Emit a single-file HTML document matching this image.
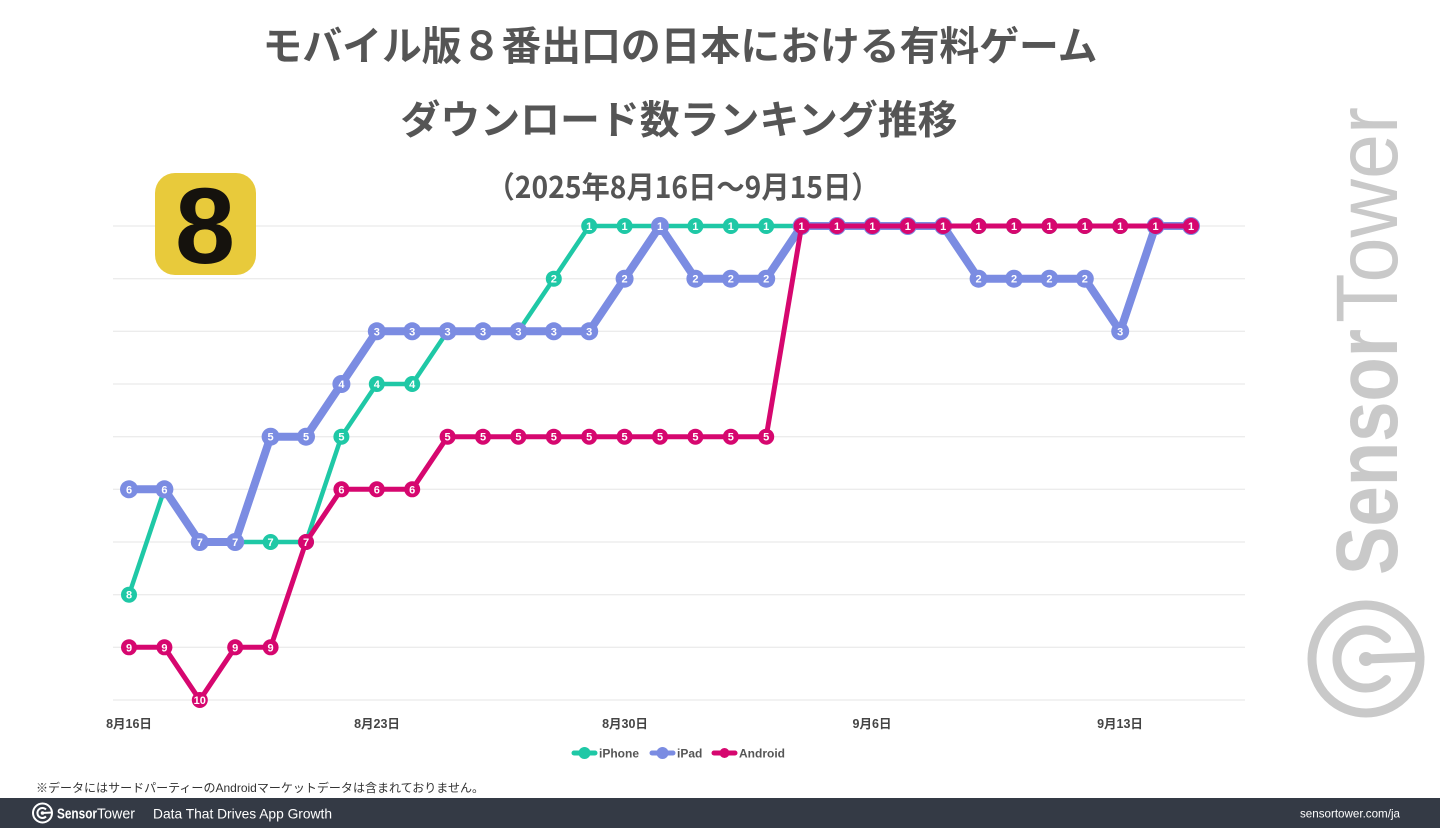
<!DOCTYPE html>
<html>
<head>
<meta charset="utf-8">
<style>
html,body{margin:0;padding:0;background:#fff;}
svg{display:block;}
.ip circle{fill:#1fc8a6;}
.pd circle{fill:#7b8ce2;}
.an circle{fill:#d6076f;}
.lbl text{font-family:"Liberation Sans","Noto Sans CJK JP",sans-serif;font-weight:bold;font-size:11px;fill:#fff;text-anchor:middle;}
.ax{font-family:"Liberation Sans","Noto Sans CJK JP",sans-serif;font-weight:bold;font-size:12.5px;fill:#444;text-anchor:middle;}
</style>
</head>
<body>
<svg width="1440" height="828" viewBox="0 0 1440 828" xmlns="http://www.w3.org/2000/svg">
<rect width="1440" height="828" fill="#fff"/>

<!-- Title -->
<g font-family="'Noto Sans CJK JP','Liberation Sans',sans-serif" font-weight="bold" fill="#555" text-anchor="middle">
<text x="680" y="60" font-size="40" textLength="835" lengthAdjust="spacingAndGlyphs">モバイル版８番出口の日本における有料ゲーム</text>
<text x="679" y="134" font-size="39.5" textLength="557" lengthAdjust="spacingAndGlyphs">ダウンロード数ランキング推移</text>
<text x="683" y="198" font-size="30" textLength="393" lengthAdjust="spacingAndGlyphs">（2025年8月16日～9月15日）</text>
</g>

<!-- Gridlines -->
<g stroke="#e6e6e6" stroke-width="1">
<line x1="113" y1="226" x2="1245" y2="226"/>
<line x1="113" y1="278.7" x2="1245" y2="278.7"/>
<line x1="113" y1="331.3" x2="1245" y2="331.3"/>
<line x1="113" y1="384" x2="1245" y2="384"/>
<line x1="113" y1="436.7" x2="1245" y2="436.7"/>
<line x1="113" y1="489.3" x2="1245" y2="489.3"/>
<line x1="113" y1="542" x2="1245" y2="542"/>
<line x1="113" y1="594.7" x2="1245" y2="594.7"/>
<line x1="113" y1="647.3" x2="1245" y2="647.3"/>
<line x1="113" y1="700" x2="1245" y2="700"/>
</g>

<!-- Watermark -->
<g fill="#c9c9c9">
<g transform="translate(1397,575) rotate(-90)" font-family="'Liberation Sans',sans-serif">
<text x="0" y="0" font-size="87" font-weight="bold" textLength="246" lengthAdjust="spacingAndGlyphs">Sensor</text>
<text x="252" y="0" font-size="87" textLength="216" lengthAdjust="spacingAndGlyphs">Tower</text>
</g>
</g>
<g fill="none" stroke="#c9c9c9" stroke-width="9" stroke-linecap="round">
<circle cx="1366" cy="659" r="54"/>
<path d="M1386.5,638.5 A29,29 0 1 0 1386.5,679.5"/>
<line x1="1366" y1="659" x2="1420" y2="657"/>
</g>
<circle cx="1366" cy="659" r="7" fill="#c9c9c9"/>

<!-- App icon -->
<rect x="155" y="173" width="101" height="102" rx="20" fill="#e8ca3b"/>
<text x="205" y="263" font-family="'Liberation Sans',sans-serif" font-weight="bold" font-size="108" fill="#15120d" text-anchor="middle">8</text>

<!-- Lines -->
<g fill="none" stroke-linejoin="round" stroke-linecap="round">
<polyline stroke="#1fc8a6" stroke-width="4.5" points="129,594.7 164.4,489.3 199.8,542 306,542 341.4,436.7 376.8,384 412.2,384 447.6,331.3 518.4,331.3 553.8,278.7 589.2,226 1191,226"/>
</g>

<g class="ip lbl">
<circle cx="129" cy="594.7" r="8"/><text x="129" y="598.7">8</text>
<circle cx="164.4" cy="489.3" r="8"/><text x="164.4" y="493.3">6</text>
<circle cx="199.8" cy="542" r="8"/><text x="199.8" y="546">7</text>
<circle cx="235.2" cy="542" r="8"/><text x="235.2" y="546">7</text>
<circle cx="270.6" cy="542" r="8"/><text x="270.6" y="546">7</text>
<circle cx="306" cy="542" r="8"/><text x="306" y="546">7</text>
<circle cx="341.4" cy="436.7" r="8"/><text x="341.4" y="440.7">5</text>
<circle cx="376.8" cy="384" r="8"/><text x="376.8" y="388">4</text>
<circle cx="412.2" cy="384" r="8"/><text x="412.2" y="388">4</text>
<circle cx="447.6" cy="331.3" r="8"/><text x="447.6" y="335.3">3</text>
<circle cx="483" cy="331.3" r="8"/><text x="483" y="335.3">3</text>
<circle cx="518.4" cy="331.3" r="8"/><text x="518.4" y="335.3">3</text>
<circle cx="553.8" cy="278.7" r="8"/><text x="553.8" y="282.7">2</text>
<circle cx="589.2" cy="226" r="8"/><text x="589.2" y="230">1</text>
<circle cx="624.6" cy="226" r="8"/><text x="624.6" y="230">1</text>
<circle cx="660" cy="226" r="8"/><text x="660" y="230">1</text>
<circle cx="695.4" cy="226" r="8"/><text x="695.4" y="230">1</text>
<circle cx="730.8" cy="226" r="8"/><text x="730.8" y="230">1</text>
<circle cx="766.2" cy="226" r="8"/><text x="766.2" y="230">1</text>
<circle cx="801.6" cy="226" r="8"/>
<circle cx="837" cy="226" r="8"/>
<circle cx="872.4" cy="226" r="8"/>
<circle cx="907.8" cy="226" r="8"/>
<circle cx="943.2" cy="226" r="8"/>
<circle cx="978.6" cy="226" r="8"/>
<circle cx="1014" cy="226" r="8"/>
<circle cx="1049.4" cy="226" r="8"/>
<circle cx="1084.8" cy="226" r="8"/>
<circle cx="1120.2" cy="226" r="8"/>
<circle cx="1155.6" cy="226" r="8"/>
<circle cx="1191" cy="226" r="8"/>
</g>

<polyline fill="none" stroke-linejoin="round" stroke-linecap="round" stroke="#7b8ce2" stroke-width="8" points="129,489.3 164.4,489.3 199.8,542 235.2,542 270.6,436.7 306,436.7 341.4,384 376.8,331.3 589.2,331.3 624.6,278.7 660,226 695.4,278.7 766.2,278.7 801.6,226 943.2,226 978.6,278.7 1084.8,278.7 1120.2,331.3 1155.6,226 1191,226"/>

<g class="pd lbl">
<circle cx="129" cy="489.3" r="9"/><text x="129" y="493.3">6</text>
<circle cx="164.4" cy="489.3" r="9"/><text x="164.4" y="493.3">6</text>
<circle cx="199.8" cy="542" r="9"/><text x="199.8" y="546">7</text>
<circle cx="235.2" cy="542" r="9"/><text x="235.2" y="546">7</text>
<circle cx="270.6" cy="436.7" r="9"/><text x="270.6" y="440.7">5</text>
<circle cx="306" cy="436.7" r="9"/><text x="306" y="440.7">5</text>
<circle cx="341.4" cy="384" r="9"/><text x="341.4" y="388">4</text>
<circle cx="376.8" cy="331.3" r="9"/><text x="376.8" y="335.3">3</text>
<circle cx="412.2" cy="331.3" r="9"/><text x="412.2" y="335.3">3</text>
<circle cx="447.6" cy="331.3" r="9"/><text x="447.6" y="335.3">3</text>
<circle cx="483" cy="331.3" r="9"/><text x="483" y="335.3">3</text>
<circle cx="518.4" cy="331.3" r="9"/><text x="518.4" y="335.3">3</text>
<circle cx="553.8" cy="331.3" r="9"/><text x="553.8" y="335.3">3</text>
<circle cx="589.2" cy="331.3" r="9"/><text x="589.2" y="335.3">3</text>
<circle cx="624.6" cy="278.7" r="9"/><text x="624.6" y="282.7">2</text>
<circle cx="660" cy="226" r="9"/><text x="660" y="230">1</text>
<circle cx="695.4" cy="278.7" r="9"/><text x="695.4" y="282.7">2</text>
<circle cx="730.8" cy="278.7" r="9"/><text x="730.8" y="282.7">2</text>
<circle cx="766.2" cy="278.7" r="9"/><text x="766.2" y="282.7">2</text>
<circle cx="801.6" cy="226" r="9"/>
<circle cx="837" cy="226" r="9"/>
<circle cx="872.4" cy="226" r="9"/>
<circle cx="907.8" cy="226" r="9"/>
<circle cx="943.2" cy="226" r="9"/>
<circle cx="978.6" cy="278.7" r="9"/><text x="978.6" y="282.7">2</text>
<circle cx="1014" cy="278.7" r="9"/><text x="1014" y="282.7">2</text>
<circle cx="1049.4" cy="278.7" r="9"/><text x="1049.4" y="282.7">2</text>
<circle cx="1084.8" cy="278.7" r="9"/><text x="1084.8" y="282.7">2</text>
<circle cx="1120.2" cy="331.3" r="9"/><text x="1120.2" y="335.3">3</text>
<circle cx="1155.6" cy="226" r="9"/>
<circle cx="1191" cy="226" r="9"/>
</g>

<polyline fill="none" stroke-linejoin="round" stroke-linecap="round" stroke="#d6076f" stroke-width="5" points="129,647.3 164.4,647.3 199.8,700 235.2,647.3 270.6,647.3 306,542 341.4,489.3 412.2,489.3 447.6,436.7 766.2,436.7 801.6,226 1191,226"/>

<g class="an lbl">
<circle cx="129" cy="647.3" r="8"/><text x="129" y="651.3">9</text>
<circle cx="164.4" cy="647.3" r="8"/><text x="164.4" y="651.3">9</text>
<circle cx="199.8" cy="700" r="8"/><text x="199.8" y="704" font-size="10">10</text>
<circle cx="235.2" cy="647.3" r="8"/><text x="235.2" y="651.3">9</text>
<circle cx="270.6" cy="647.3" r="8"/><text x="270.6" y="651.3">9</text>
<circle cx="306" cy="542" r="8"/><text x="306" y="546">7</text>
<circle cx="341.4" cy="489.3" r="8"/><text x="341.4" y="493.3">6</text>
<circle cx="376.8" cy="489.3" r="8"/><text x="376.8" y="493.3">6</text>
<circle cx="412.2" cy="489.3" r="8"/><text x="412.2" y="493.3">6</text>
<circle cx="447.6" cy="436.7" r="8"/><text x="447.6" y="440.7">5</text>
<circle cx="483" cy="436.7" r="8"/><text x="483" y="440.7">5</text>
<circle cx="518.4" cy="436.7" r="8"/><text x="518.4" y="440.7">5</text>
<circle cx="553.8" cy="436.7" r="8"/><text x="553.8" y="440.7">5</text>
<circle cx="589.2" cy="436.7" r="8"/><text x="589.2" y="440.7">5</text>
<circle cx="624.6" cy="436.7" r="8"/><text x="624.6" y="440.7">5</text>
<circle cx="660" cy="436.7" r="8"/><text x="660" y="440.7">5</text>
<circle cx="695.4" cy="436.7" r="8"/><text x="695.4" y="440.7">5</text>
<circle cx="730.8" cy="436.7" r="8"/><text x="730.8" y="440.7">5</text>
<circle cx="766.2" cy="436.7" r="8"/><text x="766.2" y="440.7">5</text>
<circle cx="801.6" cy="226" r="8"/><text x="801.6" y="230">1</text>
<circle cx="837" cy="226" r="8"/><text x="837" y="230">1</text>
<circle cx="872.4" cy="226" r="8"/><text x="872.4" y="230">1</text>
<circle cx="907.8" cy="226" r="8"/><text x="907.8" y="230">1</text>
<circle cx="943.2" cy="226" r="8"/><text x="943.2" y="230">1</text>
<circle cx="978.6" cy="226" r="8"/><text x="978.6" y="230">1</text>
<circle cx="1014" cy="226" r="8"/><text x="1014" y="230">1</text>
<circle cx="1049.4" cy="226" r="8"/><text x="1049.4" y="230">1</text>
<circle cx="1084.8" cy="226" r="8"/><text x="1084.8" y="230">1</text>
<circle cx="1120.2" cy="226" r="8"/><text x="1120.2" y="230">1</text>
<circle cx="1155.6" cy="226" r="8"/><text x="1155.6" y="230">1</text>
<circle cx="1191" cy="226" r="8"/><text x="1191" y="230">1</text>
</g>

<!-- X axis labels -->
<text class="ax" x="129" y="728">8月16日</text>
<text class="ax" x="377" y="728">8月23日</text>
<text class="ax" x="625" y="728">8月30日</text>
<text class="ax" x="872" y="728">9月6日</text>
<text class="ax" x="1120" y="728">9月13日</text>

<!-- Legend -->
<g font-family="'Liberation Sans',sans-serif" font-weight="bold" font-size="12" fill="#555">
<line x1="574" y1="753" x2="595" y2="753" stroke="#1fc8a6" stroke-width="5" stroke-linecap="round"/>
<circle cx="584.5" cy="753" r="6" fill="#1fc8a6"/>
<text x="599" y="757.5">iPhone</text>
<line x1="652" y1="753" x2="673" y2="753" stroke="#7b8ce2" stroke-width="5" stroke-linecap="round"/>
<circle cx="662.5" cy="753" r="6" fill="#7b8ce2"/>
<text x="677" y="757.5">iPad</text>
<line x1="714" y1="753" x2="735" y2="753" stroke="#d6076f" stroke-width="5" stroke-linecap="round"/>
<circle cx="724.5" cy="753" r="5" fill="#d6076f"/>
<text x="739" y="757.5">Android</text>
</g>

<!-- Footnote -->
<text x="36" y="792" font-family="'Liberation Sans','Noto Sans CJK JP',sans-serif" font-size="11.8" fill="#333" textLength="448" lengthAdjust="spacingAndGlyphs">※データにはサードパーティーのAndroidマーケットデータは含まれておりません。</text>

<!-- Footer -->
<rect x="0" y="798" width="1440" height="30" fill="#343a45"/>
<g fill="none" stroke="#fff" stroke-width="2">
<circle cx="42.5" cy="813" r="9.5"/>
<path d="M46,809.5 A5,5 0 1 0 46,816.5"/>
<line x1="42.5" y1="813" x2="52" y2="812.5"/>
</g>
<circle cx="42.5" cy="813" r="1.8" fill="#fff"/>
<g font-family="'Liberation Sans',sans-serif" fill="#fff">
<text x="57" y="818.5" font-size="15" font-weight="bold" textLength="40" lengthAdjust="spacingAndGlyphs">Sensor</text>
<text x="97" y="818.5" font-size="15" textLength="38" lengthAdjust="spacingAndGlyphs">Tower</text>
<text x="153" y="818.5" font-size="14" textLength="179" lengthAdjust="spacingAndGlyphs">Data That Drives App Growth</text>
<text x="1300" y="817.5" font-size="12" textLength="100" lengthAdjust="spacingAndGlyphs">sensortower.com/ja</text>
</g>
</svg>
</body>
</html>
